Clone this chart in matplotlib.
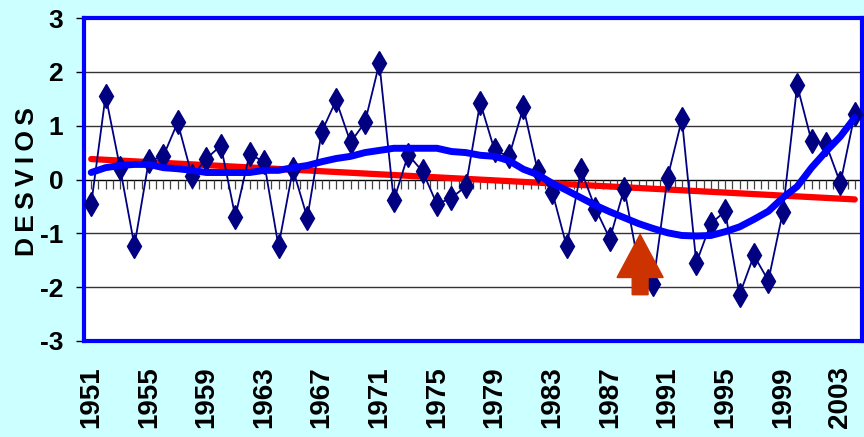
import numpy as np
import matplotlib
matplotlib.use('Agg')
import matplotlib.pyplot as plt
from matplotlib.patches import FancyArrow

# Datos: desvios anuales 1951-2004
anios = np.arange(1951, 2005)
desvios = [-0.46, 1.56, 0.22, -1.23, 0.35, 0.43, 1.06, 0.06, 0.39, 0.63,
           -0.69, 0.48, 0.32, -1.24, 0.19, -0.71, 0.89, 1.47, 0.69, 1.06,
           2.16, -0.39, 0.46, 0.15, -0.46, -0.34, -0.13, 1.43, 0.54, 0.43,
           1.34, 0.15, -0.23, -1.24, 0.17, -0.54, -1.10, -0.17, -1.60, -1.95,
           0.03, 1.12, -1.55, -0.82, -0.59, -2.14, -1.41, -1.88, -0.61, 1.75,
           0.71, 0.66, -0.07, 1.22]

# Curva suavizada (azul)
suavizado = [0.13, 0.22, 0.26, 0.28, 0.28, 0.22, 0.20, 0.17, 0.13, 0.13,
             0.13, 0.13, 0.17, 0.17, 0.22, 0.26, 0.33, 0.39, 0.43, 0.50,
             0.54, 0.58, 0.58, 0.58, 0.58, 0.52, 0.50, 0.45, 0.43, 0.35,
             0.19, 0.09, -0.07, -0.20, -0.34, -0.48, -0.60, -0.71, -0.82, -0.91,
             -0.99, -1.04, -1.05, -1.04, -0.97, -0.88, -0.74, -0.59, -0.34, -0.13,
             0.22, 0.52, 0.80, 1.15]

# Tendencia lineal (roja)
anios_tend = [1951, 2004]
tendencia = [0.38, -0.37]

# Flecha
anio_flecha = 1989.1

etiquetas_x = anios[::4]

plt.rcParams['axes.unicode_minus'] = False
plt.rcParams['font.family'] = ['Liberation Sans', 'DejaVu Sans']
plt.rcParams['font.weight'] = 'bold'

fig = plt.figure(figsize=(8.64, 4.37), dpi=100, facecolor='#CCFFFF')
ax = fig.add_axes([84/864, 1 - 341/437, 778/864, 323/437])
ax.set_facecolor('white')

# Lineas de cuadricula y eje en cero
for yv in [-2, -1, 1, 2]:
    ax.axhline(yv, color='#333333', lw=1.0, zorder=1)
ax.axhline(0, color='black', lw=1.0, zorder=1)
ax.vlines(np.arange(1950.5, 2004.6, 0.5), -0.17, 0, color='#444444', lw=0.9, zorder=1)

ax.plot(anios_tend, tendencia, color='#FF0000', lw=4.5, solid_capstyle='round', zorder=2)
ax.plot(anios, desvios, color='#000080', lw=1.3, marker='d', ms=12,
        markerfacecolor='#000080', markeredgecolor='#000080', zorder=3)
ax.plot(anios, suavizado, color='#0000FF', lw=5, solid_capstyle='round', zorder=4)

flecha = FancyArrow(anio_flecha, -2.14, 0, 1.12, width=1.1, head_width=3.2,
                    head_length=0.8, length_includes_head=True,
                    color='#CC3300', zorder=5)
ax.add_patch(flecha)

ax.set_xlim(1950.5, 2004.5)
ax.set_ylim(-3, 3)
ax.set_yticks(range(-3, 4))
ax.set_yticklabels([str(v) for v in range(-3, 4)], fontsize=19, fontweight='bold')
ax.set_xticks(etiquetas_x)
ax.set_xticklabels([str(a) for a in etiquetas_x], rotation=90,
                   fontsize=20, fontweight='bold', va='top')
ax.tick_params(axis='x', length=0, pad=18)
ax.tick_params(axis='y', length=6, width=1, pad=9, color='black')

for s in ax.spines.values():
    s.set_color('#0000FF')
    s.set_linewidth(3)

fig.text(27/864, 1 - 182/437, 'D\u2009E\u2009S\u2009V\u2009I\u2009O\u2009S', rotation=90,
         fontsize=19, fontweight='bold', ha='center', va='center')

fig.savefig('out.png', dpi=100, facecolor=fig.get_facecolor())
